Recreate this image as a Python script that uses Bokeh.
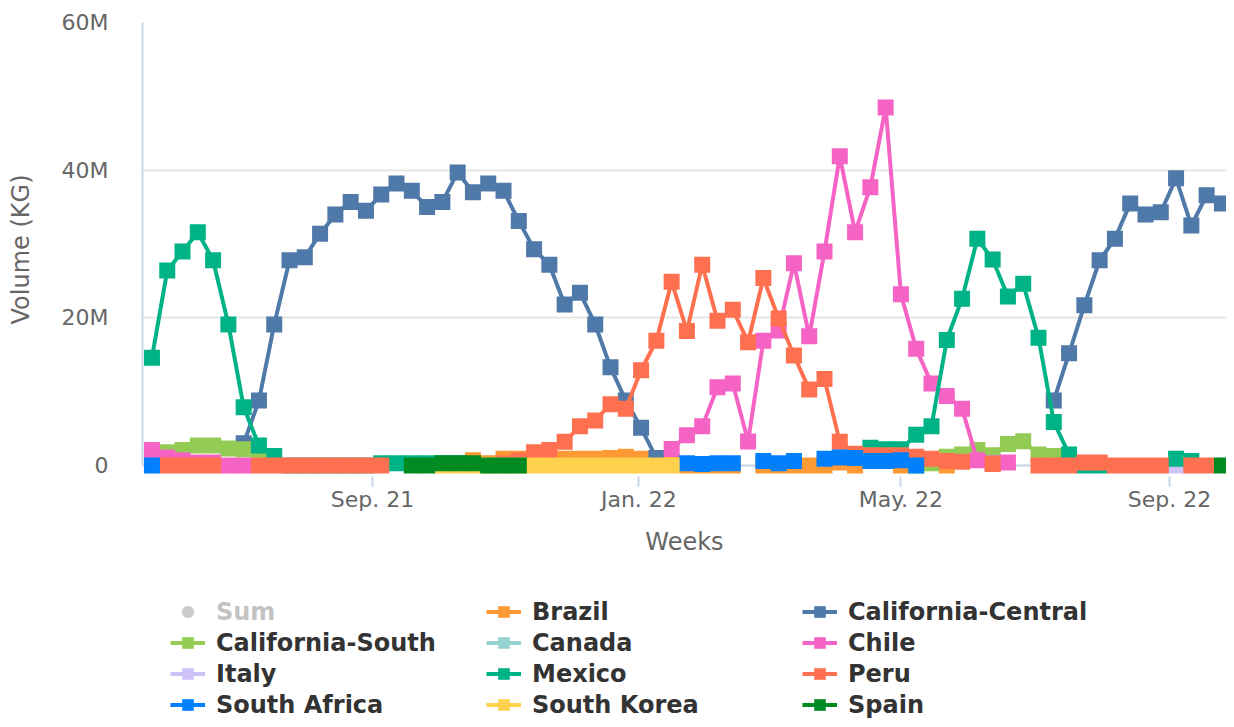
import numpy as np
import pandas as pd
from bokeh.plotting import figure
from bokeh.layouts import column
from bokeh.models import Range1d, FixedTicker, DatetimeTickFormatter, Legend, LegendItem, Span
from bokeh.embed import file_html
from bokeh.resources import INLINE

nan = float("nan")
N = 72
weeks = pd.date_range("2021-05-23", periods=N, freq="7D")

# weekly volumes, millions of KG (nan = no shipment recorded)
brazil = ([nan] * 21
          + [0.7, 0.3, 0.9, 0.9, 0.9, 0.9, 0.9, 0.9, 0.9, 1.0, 1.2, 0.9, 0.7, 0.5]
          + [0, 0, 0, 0, nan, 0, 0, 0, 0, 0, 0.4, 0]
          + [nan, nan, 0, nan, nan, 0]
          + [nan] * 19)
cal_central = ([nan] * 6
               + [3.0, 8.8, 19.1, 27.8, 28.2, 31.4, 34.0, 35.7, 34.5, 36.7, 38.2, 37.2, 35.0, 35.7,
                  39.7, 37.0, 38.2, 37.2, 33.1, 29.3, 27.2, 21.8, 23.4, 19.1, 13.3, 8.8, 5.1, 1.0]
               + [nan] * 25
               + [8.8, 15.2, 21.7, 27.8, 30.7, 35.5, 34.0, 34.3, 38.9, 32.5, 36.6, 35.5, 34.8])
cal_south = ([1.6, 1.8, 2.1, 2.7, 2.7, 2.3, 2.2, 1.2, 0.4]
             + [nan] * 41
             + [0, 0.3, 1.2, 1.5, 2.1, 1.4, 2.9, 3.3, 1.5, 1.3, 0.3]
             + [nan] * 11)
canada = [nan] * N
chile = ([2.1, 1.1, 0.7, 0.4, 0.4, 0, 0]
         + [nan] * 27
         + [2.25, 4.1, 5.3, 10.6, 11.1, 3.25, 16.9, 18.3, 27.4, 17.5, 29.0, 41.9, 31.6, 37.7,
            48.5, 23.2, 15.8, 11.1, 9.4, 7.7, 0.7, 0.3, 0.4]
         + [nan] * 15)
italy = [nan] * 67 + [0] + [nan] * 4
mexico = ([14.6, 26.4, 29.0, 31.6, 27.8, 19.1, 7.9, 2.7, 1.3,
           0, 0, 0, 0, 0, 0, 0.3, 0.3, 0.3, 0.3, 0.3, 0.3]
          + [nan] * 26
          + [2.4, 2.2, 2.2, 4.15, 5.3, 17.0, 22.6, 30.7, 27.9, 22.9, 24.6, 17.3, 5.9, 1.5, 0, 0]
          + [nan] * 4 + [0.9, 0.6] + [nan] * 3)
peru = ([nan, 0, 0, 0, 0, nan, nan, 0, 0, 0, 0, 0, 0, 0, 0, 0]
        + [nan] * 7
        + [0.3, 0.7, 1.8, 2.1, 3.2, 5.3, 6.1, 8.3, 7.7, 12.9, 16.9, 24.9, 18.2, 27.2, 19.6, 21.1,
           16.7, 25.4, 19.9, 14.9, 10.3, 11.7, 3.2, 1.6, 1.4, 1.4, 1.4, 1.2, 0.9, 0.6, 0.5]
        + [nan, 0.2, nan, nan, 0, 0, 0, 0.4, 0.4, 0, 0, 0, 0, nan, 0, 0, nan, nan])
south_africa = ([0] + [nan] * 34
                + [0.3, 0.2, 0.3, 0.3, nan, 0.6, 0.3, 0.6, nan, 0.9, 1.1, 1.0, 0.6, 0.6, 0.7, 0]
                + [nan] * 21)
south_korea = ([nan] * 19
               + [0, 0, 0, 0, 0, 0, 0, 0, 0, 0, 0, 0, 0, 0, 0, 0]
               + [nan] * 37)
spain = [nan] * 17 + [0, 0, 0.3, 0.3, 0.3, 0, 0, 0] + [nan] * 45 + [0, 0]

series_names = ["Brazil", "California-Central", "California-South", "Canada", "Chile", "Italy",
                "Mexico", "Peru", "South Africa", "South Korea", "Spain"]
series_values = [brazil, cal_central, cal_south, canada, chile, italy,
                 mexico, peru, south_africa, south_korea, spain]
series_colors = ["#ff9933", "#4f79a8", "#93cc55", "#99d3d1", "#f564c4", "#cdc1f7",
                 "#00b386", "#ff7050", "#0080ff", "#ffd24d", "#008a22"]
for v in series_values:
    assert len(v) == N, len(v)

y_ticks = [0, 20e6, 40e6, 60e6]
y_tick_labels = ["0", "20M", "40M", "60M"]
x_tick_dates = ["2021-09-01", "2022-01-01", "2022-05-01", "2022-09-01"]
x_tick_labels = ["Sep. 21", "Jan. 22", "May. 22", "Sep. 22"]

# layout
W = 1226
H_MAIN, H_LEG = 597, 122
LEFT, TOP = 142, 22
BOTTOM = H_MAIN - 476
px_per_day = 2.1836
x0 = pd.Timestamp("2021-09-01") - pd.Timedelta(days=230 / px_per_day)
x1 = x0 + pd.Timedelta(days=(W - LEFT) / px_per_day)

FONT = "DejaVu Sans"
p = figure(width=W, height=H_MAIN, x_axis_type="datetime", output_backend="svg",
           toolbar_location=None, x_range=Range1d(x0, x1), y_range=Range1d(-1.49e6, 60e6),
           min_border_left=LEFT, min_border_right=0, min_border_top=TOP, min_border_bottom=BOTTOM)
p.outline_line_color = None
p.background_fill_color = "white"
p.border_fill_color = "white"

p.xgrid.visible = False
p.ygrid.grid_line_color = "#e6e6e6"
p.ygrid.grid_line_width = 2

p.add_layout(Span(location=0, dimension="width", line_color="#ccd6eb", line_width=2, level="underlay"))

# legend lives in its own strip below the chart (its ranges exclude the data, so only the keys show)
pl = figure(width=W, height=H_LEG, output_backend="svg", toolbar_location=None,
            x_range=Range1d(0, 1), y_range=Range1d(0, 1),
            x_axis_location=None, y_axis_location=None, min_border=0)
pl.outline_line_color = None
pl.grid.visible = False

items = []
# hidden "Sum" series
sum_vals = np.nansum(np.array(series_values, dtype=float), axis=0) * 1e6
p.scatter(weeks, sum_vals, marker="circle", size=16, color="#555555", visible=False)
sum_key = pl.scatter(weeks, sum_vals, marker="circle", size=16, color="#555555", visible=False)
items.append(LegendItem(label="Sum", renderers=[sum_key]))

for name, vals, col in zip(series_names, series_values, series_colors):
    y = np.array(vals, dtype=float) * 1e6
    p.line(weeks, y, line_width=4, line_color=col, line_join="round", line_cap="round")
    p.scatter(weeks, y, marker="square", size=16, fill_color=col, line_alpha=0)
    kl = pl.line(weeks, y, line_width=4, line_color=col)
    ks = pl.scatter(weeks, y, marker="square", size=16, fill_color=col, line_alpha=0)
    items.append(LegendItem(label=name, renderers=[kl, ks]))

# axes
xt = [pd.Timestamp(d).value / 1e6 for d in x_tick_dates]
p.xaxis.ticker = FixedTicker(ticks=xt)
p.xaxis.formatter = DatetimeTickFormatter(days="%b. %y", months="%b. %y", years="%b. %y")
p.xaxis.major_label_overrides = dict(zip(xt, x_tick_labels))
p.xaxis.axis_line_color = None
p.xaxis.major_tick_line_color = "#ccd6eb"
p.xaxis.major_tick_line_width = 2
p.xaxis.major_tick_out = 10
p.xaxis.major_tick_in = 0
p.xaxis.minor_tick_line_color = None
p.xaxis.major_label_standoff = 0
p.xaxis.axis_label = "Weeks"
p.xaxis.axis_label_standoff = 13

p.yaxis.ticker = FixedTicker(ticks=y_ticks)
p.yaxis.major_label_overrides = dict(zip(y_ticks, y_tick_labels))
p.yaxis.bounds = (0, 60e6)
p.yaxis.axis_line_color = "#ccd6eb"
p.yaxis.axis_line_width = 2
p.yaxis.major_tick_line_color = None
p.yaxis.minor_tick_line_color = None
p.yaxis.major_tick_out = 0
p.yaxis.major_tick_in = 0
p.yaxis.major_label_standoff = 34
p.yaxis.axis_label = "Volume (KG)"
p.yaxis.axis_label_standoff = 24

for ax in (p.xaxis, p.yaxis):
    ax.major_label_text_font = FONT
    ax.major_label_text_font_size = "22px"
    ax.major_label_text_color = "#666666"
    ax.axis_label_text_font = FONT
    ax.axis_label_text_font_size = "24px"
    ax.axis_label_text_font_style = "normal"
    ax.axis_label_text_color = "#666666"

legend = Legend(items=items, location=(28, 0), orientation="horizontal", ncols=3,
                glyph_width=35, glyph_height=29, label_standoff=11, label_width=268,
                label_height=29, spacing=2, padding=0, margin=0,
                border_line_alpha=0, background_fill_alpha=0,
                label_text_font=FONT, label_text_font_size="24px", label_text_font_style="bold",
                label_text_color="#333333", click_policy="hide",
                inactive_fill_color="white", inactive_fill_alpha=0.7)
pl.add_layout(legend)

open("out.html", "w").write(file_html(column(p, pl, spacing=0), INLINE))
